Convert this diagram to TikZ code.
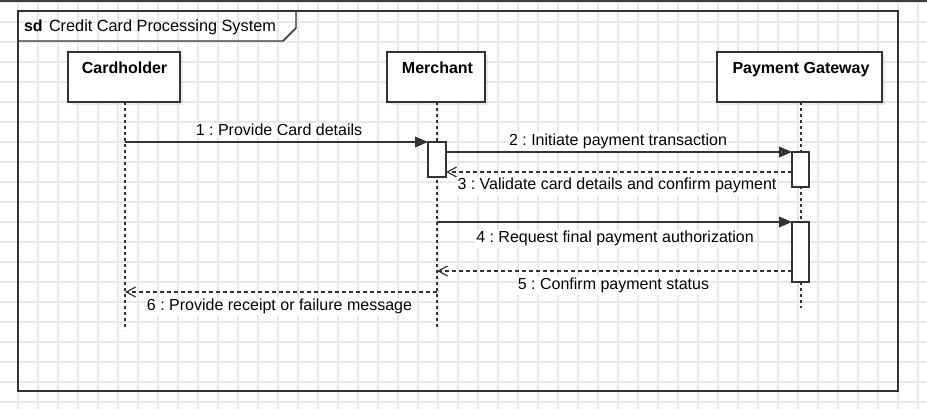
\documentclass[tikz,border=0pt]{standalone}
\usepackage{fontspec}
\setmainfont{Liberation Sans}
\usetikzlibrary{arrows.meta,shadows}
\definecolor{linec}{RGB}{51,51,51}
\definecolor{gridc}{RGB}{232,232,232}
\definecolor{topc}{RGB}{60,60,60}
\frenchspacing
\begin{document}
\begin{tikzpicture}[x=0.75pt,y=-0.75pt,
  every node/.style={inner sep=0pt, outer sep=0pt},
  ln/.style={draw=linec, line width=1.1pt},
  gridline/.style={draw=gridc, line width=0.8pt},
  part/.style={ln, fill=white, rectangle,
    drop shadow={shadow xshift=2.5pt, shadow yshift=-2.5pt, fill=black, opacity=0.08}},
  act/.style={ln, fill=white, rectangle},
  lifeline/.style={draw=linec, line width=1.1pt, dash pattern=on 2.25pt off 2.25pt},
  msg/.style={draw=linec, line width=1.1pt, -{Triangle[length=9.75pt,width=8pt]}},
  ret/.style={draw=linec, line width=1.1pt, dash pattern=on 3pt off 2.25pt,
    -{Straight Barb[length=7pt,width=7.5pt,line width=0.9pt]}},
  lbl/.style={font=\fontsize{12}{14}\selectfont, fill=white, inner sep=1pt, anchor=base},
  ptxt/.style={font=\fontsize{12}{14}\selectfont\bfseries, anchor=base},
  ftxt/.style={font=\fontsize{12.2}{14}\selectfont, anchor=base west},
]
\useasboundingbox (0,0) rectangle (927,409);
\fill[white] (0,0) rectangle (927,409);
% grid
\foreach \gx in {-2,18,...,918} \draw[gridline] (\gx,0) -- (\gx,409);
\foreach \gy in {2,22,...,402} \draw[gridline] (0,\gy) -- (927,\gy);
\fill[topc] (0,0) rectangle (927,2.5);

% frame
\draw[ln] (18,11) rectangle (898,391);
\draw[ln] (18,41) -- (283,41) -- (296,28) -- (296,11);
\node[ftxt, font=\fontsize{12}{14}\selectfont\bfseries] (sd) at (24,31.5) {sd};
\node[ftxt] (title) at (49,31.5) {Credit Card Processing System};

% participants
\node[part, minimum width=112*0.75pt, minimum height=50*0.75pt] (ch) at (124,77) {};
\node[part, minimum width=98*0.75pt, minimum height=50*0.75pt] (me) at (436,77) {};
\node[part, minimum width=165*0.75pt, minimum height=50*0.75pt] (gw) at (799.5,77) {};
\node[ptxt] (chT) at (124.5,73.5) {Cardholder};
\node[ptxt] (meT) at (437.5,73.5) {Merchant};
\node[ptxt] (gwT) at (801,73.5) {Payment Gateway};

% lifelines
\coordinate (chE) at (125,330);
\coordinate (meE) at (437,330);
\coordinate (gwE) at (801,308);
\draw[lifeline] (ch.south -| chE) -- (chE);
\draw[lifeline] (me.south -| meE) -- (meE);
\draw[lifeline] (gw.south -| gwE) -- (gwE);

% activations
\node[act, minimum width=18*0.75pt, minimum height=35*0.75pt] (aM) at (437,159.5) {};
\node[act, minimum width=17*0.75pt, minimum height=35*0.75pt] (aG1) at (800.5,169.5) {};
\node[act, minimum width=17*0.75pt, minimum height=60*0.75pt] (aG2) at (800.5,252) {};

% messages
\coordinate (y1) at (0,142);
\coordinate (y3) at (0,172);
\coordinate (y5) at (0,271);
\coordinate (y6) at (0,292);
\draw[msg] (chE |- y1) -- (aM.west |- y1);
\draw[msg] (aM.east |- aG1.north) -- (aG1.north west);
\draw[ret] (aG1.west |- y3) -- (aM.east |- y3);
\draw[msg] (aG2.north west -| meE) -- (aG2.north west);
\draw[ret] (aG2.west |- y5) -- (meE |- y5);
\draw[ret] (meE |- y6) -- (chE |- y6);

% labels
\node[lbl] (l1) at (279,135.5) {1 : Provide Card details};
\node[lbl] (l2) at (618,146) {2 : Initiate payment transaction};
\node[lbl] (l3) at (617,190) {3 : Validate card details and confirm payment};
\node[lbl] (l4) at (615,243) {4 : Request final payment authorization};
\node[lbl] (l5) at (613.5,290) {5 : Confirm payment status};
\node[lbl] (l6) at (279.5,310.5) {6 : Provide receipt or failure message};
\end{tikzpicture}
\end{document}
